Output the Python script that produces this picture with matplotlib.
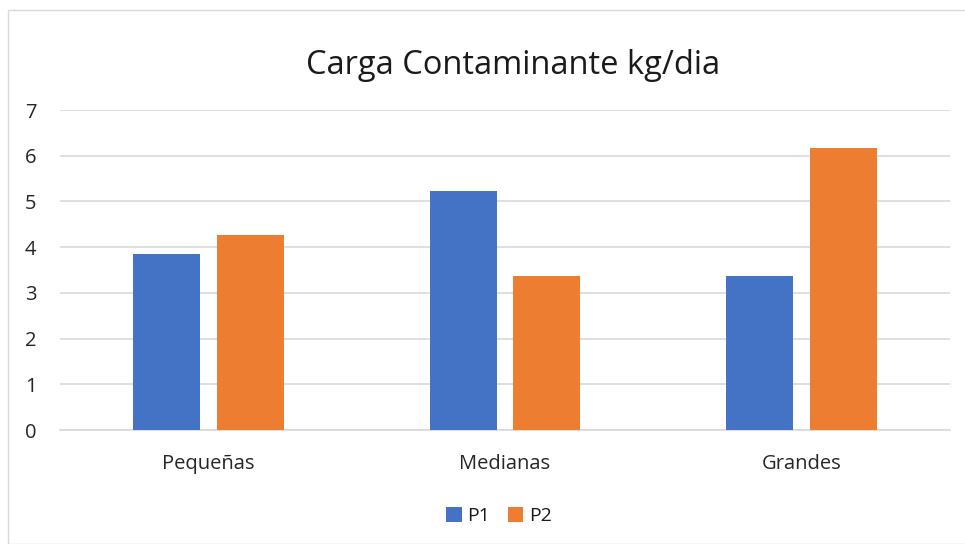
import numpy as np
import matplotlib.pyplot as plt
from matplotlib.patches import Rectangle

categories = ['Pequeñas', 'Medianas', 'Grandes']
p1 = [3.84, 5.22, 3.37]
p2 = [4.27, 3.37, 6.17]
series_names = ['P1', 'P2']
colors = ['#4472C4', '#ED7D31']

plt.rcParams['font.family'] = ['Open Sans', 'DejaVu Sans']

fig = plt.figure(figsize=(9.65, 5.44), dpi=100)
ax = fig.add_axes([60 / 965, 1 - 430 / 544, 890 / 965, 320 / 544])

# chart border
fig.patches.append(Rectangle((8 / 965, 0), 1, 1 - 10 / 544, transform=fig.transFigure,
                             fill=False, edgecolor='#D9D9D9', linewidth=1))

x = np.arange(len(categories))
width = 0.226
offset = 0.141
ax.bar(x - offset, p1, width, color=colors[0], label=series_names[0], zorder=3)
ax.bar(x + offset, p2, width, color=colors[1], label=series_names[1], zorder=3)

ax.set_xlim(-0.5, 2.5)
ax.set_ylim(0, 7)
ax.set_yticks(range(0, 8))
ax.set_xticks(x)
ax.set_xticklabels(categories)
ax.grid(axis='y', color='#D9D9D9', linewidth=1.2, zorder=0)
ax.set_axisbelow(True)
for s in ['top', 'right', 'left']:
    ax.spines[s].set_visible(False)
ax.spines['bottom'].set_color('#D9D9D9')
ax.spines['bottom'].set_linewidth(1.2)
ax.tick_params(axis='both', length=0, labelsize=14.5, colors='#262626')
ax.tick_params(axis='y', pad=17)
ax.tick_params(axis='x', pad=17)

fig.text(513 / 965, 1 - 65 / 544, 'Carga Contaminante kg/dia', ha='center', va='center',
         fontsize=23.5, color='#1a1a1a')

ax.legend(loc='center', bbox_to_anchor=(499 / 965, 1 - 516 / 544), bbox_transform=fig.transFigure,
          ncol=2, frameon=False, fontsize=14, handlelength=0.8, handleheight=0.8,
          columnspacing=0.9, handletextpad=0.3, labelcolor='#1a1a1a')

fig.savefig('out.png', dpi=100)
